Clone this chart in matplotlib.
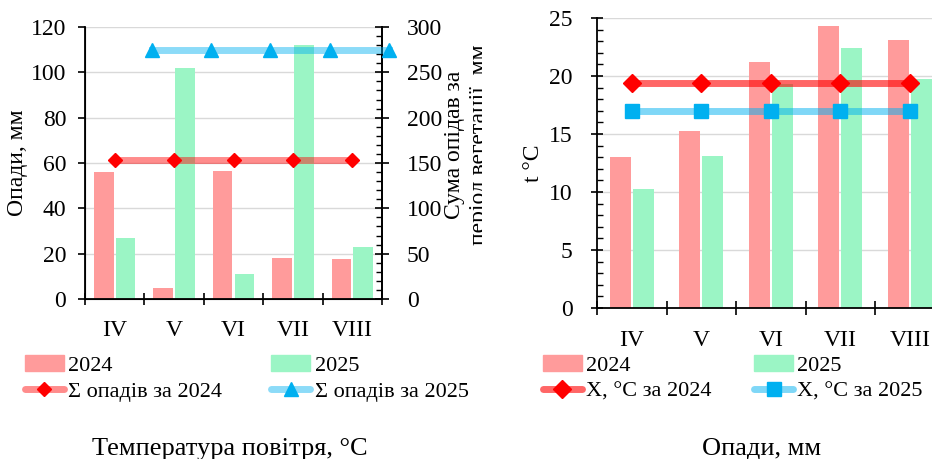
import numpy as np
import matplotlib
matplotlib.use("Agg")
import matplotlib.pyplot as plt
from matplotlib.lines import Line2D
from matplotlib.patches import Patch, Rectangle
from matplotlib.ticker import MultipleLocator

plt.rcParams['font.family'] = ['Liberation Serif', 'DejaVu Serif']
plt.rcParams['font.size'] = 16

months = ["IV", "V", "VI", "VII", "VIII"]
precip_2024 = [56.0, 5.0, 56.5, 18.0, 17.7]
precip_2025 = [27.0, 102.0, 11.0, 112.0, 23.0]
precip_sum_2024 = [153.2] * 5
precip_sum_2025 = [275.0] * 5
temp_2024 = [13.0, 15.3, 21.2, 24.3, 23.1]
temp_2025 = [10.3, 13.1, 19.3, 22.4, 19.7]
temp_avg_2024 = [19.38] * 5
temp_avg_2025 = [16.96] * 5

C24 = '#FF9B9B'
C25 = '#9BF5C5'
RED_LINE = (1.0, 0.0, 0.0, 0.45)
BLUE_LINE = (0.0, 0.69, 0.94, 0.45)
RED_LINE_R = (1.0, 0.0, 0.0, 0.6)
BLUE_LINE_R = (0.0, 0.69, 0.94, 0.5)
RED_M = '#FF0000'
BLUE_M = '#00B0F0'
TICK_FS = 17
TITLE_FS = 19

W, H = 932, 459
fig = plt.figure(figsize=(W / 100, H / 100), dpi=100)

x = np.arange(len(months))

def px(v):
    return v / W

def py(v):
    return 1 - v / H

# ---------- Left chart ----------
ax = fig.add_axes([px(85), py(299), px(382 - 85), (299 - 27) / H])
ax.bar(x - 0.183, precip_2024, width=0.33, color=C24, zorder=2)
ax.bar(x + 0.183, precip_2025, width=0.33, color=C25, zorder=2)
ax.set_xlim(-0.5, 4.5)
ax.set_ylim(0, 120)
ax.yaxis.set_major_locator(MultipleLocator(20))
ax.yaxis.grid(True, color='#d9d9d9', lw=1)
ax.set_axisbelow(True)
ax.set_xticks(np.arange(-0.5, 5, 1))
ax.set_xticklabels([])
ax.set_xticks(x, minor=True)
ax.set_xticklabels(months, minor=True)
ax.tick_params(axis='x', which='major', direction='inout', length=9, width=1.2)
ax.tick_params(axis='x', which='minor', length=0, pad=15, labelsize=TICK_FS)
ax.tick_params(axis='y', which='major', direction='out', length=5, width=1.2,
               pad=8.5, labelsize=TICK_FS)
ax.spines['top'].set_visible(False)
for s in ['left', 'bottom', 'right']:
    ax.spines[s].set_linewidth(1.3)
ax.set_ylabel("Опади, мм", labelpad=2, fontsize=17)

ax2 = ax.twinx()
ax2.set_ylim(0, 300)
ax2.yaxis.set_major_locator(MultipleLocator(50))
ax2.yaxis.set_minor_locator(MultipleLocator(10))
ax2.tick_params(axis='y', which='major', direction='inout', length=10, width=1.2,
                pad=13, labelsize=TICK_FS)
ax2.tick_params(axis='y', which='minor', direction='in', length=4, width=1)
ax2.spines['top'].set_visible(False)
ax2.spines['right'].set_linewidth(1.3)
ax2.plot(x, precip_sum_2024, color=RED_LINE, lw=5, marker='D', ms=7,
         mfc=RED_M, mec=RED_M, clip_on=False, zorder=3)
ax2.plot(x + 0.62, precip_sum_2025, color=BLUE_LINE, lw=5, marker='^', ms=10,
         mfc=BLUE_M, mec=BLUE_M, clip_on=False, zorder=3)

lab = fig.text(px(467), py(145), "Сума опідав за\nперіод вегетації, мм",
               rotation=90, ha='center', va='center', multialignment='center',
               linespacing=1.2, fontsize=17)
clip_rect = Rectangle((0, 0), 482 / W, 1, transform=fig.transFigure,
                      facecolor='none', edgecolor='none')
lab.set_clip_path(clip_rect)
lab.set_clip_on(True)

handles_l = [Patch(color=C24),
             Line2D([], [], color=RED_LINE, lw=5, marker='D', ms=7, mfc=RED_M,
                    mec=RED_M, solid_capstyle='round'),
             Patch(color=C25),
             Line2D([], [], color=BLUE_LINE, lw=5, marker='^', ms=10, mfc=BLUE_M,
                    mec=BLUE_M, solid_capstyle='round')]
labels_l = ["2024", "Σ опадів за 2024", "2025", "Σ опадів за 2025"]
fig.legend(handles_l, labels_l, ncol=2, loc='upper left',
           bbox_to_anchor=(px(25), py(355)), frameon=False, borderpad=0,
           borderaxespad=0, handlelength=1.75, handletextpad=0.2,
           columnspacing=2.2, labelspacing=0.25, numpoints=1)

fig.text(px(230), py(449), "Температура повітря, °C", ha='center', va='center',
         fontsize=TITLE_FS)

# ---------- Right chart ----------
bx = fig.add_axes([px(597), py(308), 5 * 69.5 / W, (308 - 18) / H])
bx.bar(x - 0.165, temp_2024, width=0.30, color=C24, zorder=2)
bx.bar(x + 0.165, temp_2025, width=0.30, color=C25, zorder=2)
bx.plot(x, temp_avg_2024, color=RED_LINE_R, lw=5, marker='D', ms=9,
        mfc=RED_M, mec=RED_M, zorder=3)
bx.plot(x, temp_avg_2025, color=BLUE_LINE_R, lw=5, marker='s', ms=10,
        mfc=BLUE_M, mec=BLUE_M, zorder=3)
bx.set_xlim(-0.5, 4.5)
bx.set_ylim(0, 25)
bx.yaxis.set_major_locator(MultipleLocator(5))
bx.yaxis.set_minor_locator(MultipleLocator(1))
bx.yaxis.grid(True, color='#d9d9d9', lw=1)
bx.set_axisbelow(True)
bx.set_xticks(np.arange(-0.5, 5, 1))
bx.set_xticklabels([])
bx.set_xticks(x, minor=True)
bx.set_xticklabels(months, minor=True)
bx.tick_params(axis='x', which='major', direction='inout', length=10, width=1.2)
bx.tick_params(axis='x', which='minor', length=0, pad=16, labelsize=TICK_FS)
bx.tick_params(axis='y', which='major', direction='inout', length=9, width=1.2,
               pad=13, labelsize=TICK_FS)
bx.tick_params(axis='y', which='minor', direction='in', length=4, width=1)
bx.spines['top'].set_visible(False)
bx.spines['right'].set_visible(False)
for s in ['left', 'bottom']:
    bx.spines[s].set_linewidth(1.3)
bx.set_ylabel("t °C", labelpad=4, fontsize=17)

handles_r = [Patch(color=C24),
             Line2D([], [], color=RED_LINE_R, lw=5, marker='D', ms=9, mfc=RED_M,
                    mec=RED_M, solid_capstyle='round'),
             Patch(color=C25),
             Line2D([], [], color=BLUE_LINE_R, lw=5, marker='s', ms=10, mfc=BLUE_M,
                    mec=BLUE_M, solid_capstyle='round')]
labels_r = ["2024", "X, °C за 2024", "2025", "X, °C за 2025"]
fig.legend(handles_r, labels_r, ncol=2, loc='upper left',
           bbox_to_anchor=(px(543), py(355)), frameon=False, borderpad=0,
           borderaxespad=0, handlelength=1.75, handletextpad=0.2,
           columnspacing=1.9, labelspacing=0.25, numpoints=1)

fig.text(px(762), py(449), "Опади, мм", ha='center', va='center', fontsize=TITLE_FS)

fig.savefig("out.png", dpi=100)
